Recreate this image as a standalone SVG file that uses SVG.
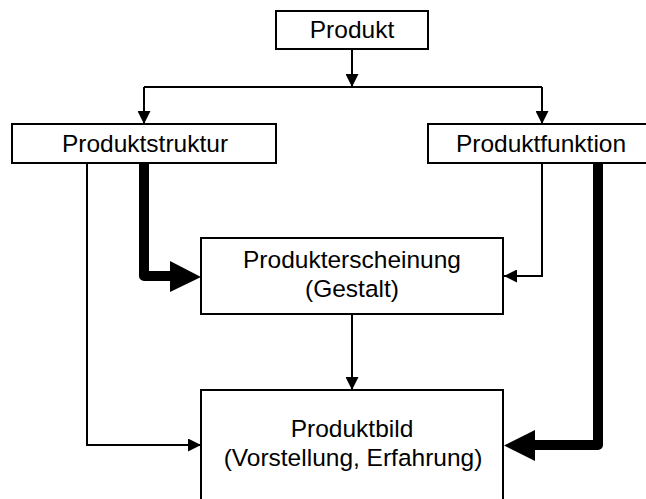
<svg xmlns="http://www.w3.org/2000/svg" width="646" height="499" viewBox="0 0 646 499">
  <style>
    .box { fill: #ffffff; stroke: #000000; stroke-width: 2; }
    .lbl { font-family: "Liberation Sans", Arial, sans-serif; font-size: 24.5px; fill: #000000; text-anchor: middle; }
    .thin { fill: none; stroke: #000000; stroke-width: 2; marker-end: url(#tip); }
    .thick { fill: none; stroke: #000000; stroke-width: 10; stroke-linejoin: round; }
    .head { fill: #000000; }
  </style>
  <defs>
    <marker id="tip" markerUnits="userSpaceOnUse" markerWidth="13" markerHeight="13" refX="13" refY="6.5" orient="auto">
      <path d="M0,0 L13,6.5 L0,13 z" fill="#000000"/>
    </marker>
  </defs>
  <rect width="646" height="499" fill="#ffffff"/>

  <!-- connectors -->
  <g id="connectors">
    <path class="thin" d="M352,49 V87"/>
    <path d="M144,87 H542" fill="none" stroke="#000000" stroke-width="2"/>
    <path class="thin" d="M144,87 V124"/>
    <path class="thin" d="M542,87 V124"/>
    <path class="thin" d="M87,163 V445 H201"/>
    <path class="thick" d="M144,163 V276 H175"/>
    <polygon class="head" points="170,261 201,277 170,292"/>
    <path class="thin" d="M542,163 V276 H504"/>
    <path class="thick" d="M598,163 V445 H530"/>
    <polygon class="head" points="535,430 504,445.5 535,461"/>
    <path class="thin" d="M352,314 V390"/>
  </g>

  <g id="produkt">
    <rect class="box" x="276" y="11" width="152" height="38"/>
    <text class="lbl" x="352" y="38">Produkt</text>
  </g>
  <g id="produktstruktur">
    <rect class="box" x="12" y="124" width="264" height="39"/>
    <text class="lbl" x="145" y="151.5">Produktstruktur</text>
  </g>
  <g id="produktfunktion">
    <rect class="box" x="428" y="124" width="230" height="39"/>
    <text class="lbl" x="541" y="151.5">Produktfunktion</text>
  </g>
  <g id="produkterscheinung">
    <rect class="box" x="201" y="238" width="302" height="76"/>
    <text class="lbl" x="352" y="268">Produkterscheinung</text>
    <text class="lbl" x="352" y="297">(Gestalt)</text>
  </g>
  <g id="produktbild">
    <rect class="box" x="201" y="390" width="302" height="120"/>
    <text class="lbl" x="352" y="437">Produktbild</text>
    <text class="lbl" x="353" y="466">(Vorstellung, Erfahrung)</text>
  </g>
</svg>
